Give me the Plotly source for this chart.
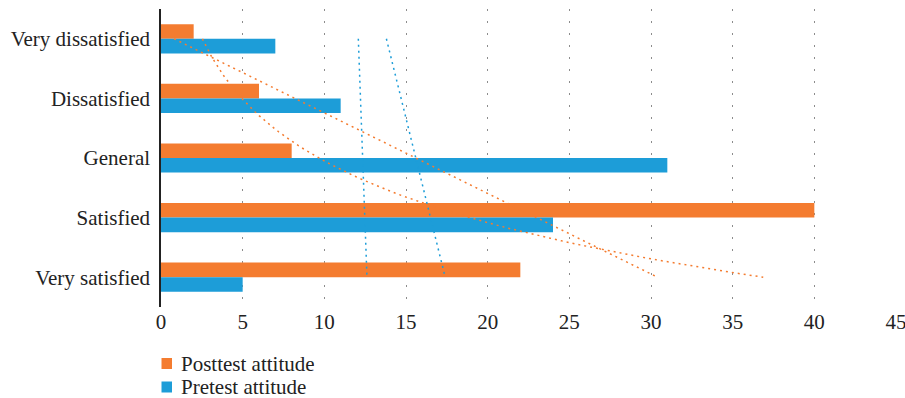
import numpy as np
import plotly.graph_objects as go

categories = ["Very dissatisfied", "Dissatisfied", "General", "Satisfied", "Very satisfied"]
series_names = ["Posttest attitude", "Pretest attitude"]
posttest = [2, 6, 8, 40, 22]
pretest = [7, 11, 31, 24, 5]
x_ticks = [0, 5, 10, 15, 20, 25, 30, 35, 40, 45]

ORANGE = "#F47C30"
BLUE = "#1D9DD8"
FONT = "Liberation Serif, serif"
FS = 21

W, H = 905, 398
L, R, T, B = 161, 9, 9, 91
PW, PH = W - L - R, H - T - B

idx = np.arange(1, len(categories) + 1, dtype=float)


def linear_trend(vals, k):
    b, a = np.polyfit(idx, np.asarray(vals, float), 1)
    return a + b * k


def exp_trend(vals, k):
    b, a = np.polyfit(idx, np.log(np.asarray(vals, float)), 1)
    return np.exp(a + b * k)


kk = np.linspace(1, len(categories), 60)

fig = go.Figure()
fig.add_trace(go.Bar(y=idx, x=posttest, orientation="h", name=series_names[0],
                     marker=dict(color=ORANGE, line=dict(width=0))))
fig.add_trace(go.Bar(y=idx, x=pretest, orientation="h", name=series_names[1],
                     marker=dict(color=BLUE, line=dict(width=0))))

for vals, col in [(posttest, ORANGE), (pretest, BLUE)]:
    for fn in (linear_trend, exp_trend):
        fig.add_trace(go.Scatter(x=fn(vals, kk), y=kk, mode="lines", showlegend=False,
                                 hoverinfo="skip",
                                 line=dict(color=col, width=1.5, dash="2px,4px")))


# manual legend (pixel positions converted to paper coordinates)
def px_x(p):
    return (p - L) / PW


def px_y(p):
    return (H - B - p) / PH


for i, (name, col) in enumerate(zip(series_names, [ORANGE, BLUE])):
    cy = 363.5 + 23.5 * i
    fig.add_shape(type="rect", xref="paper", yref="paper",
                  x0=px_x(161.5), x1=px_x(172), y0=px_y(cy - 5.5), y1=px_y(cy + 5.5),
                  fillcolor=col, line=dict(width=0))
    fig.add_annotation(xref="paper", yref="paper", x=px_x(180), y=px_y(cy),
                       xanchor="left", yanchor="middle", showarrow=False, text=name,
                       height=18, valign="middle", borderpad=0,
                       font=dict(family=FONT, size=FS, color="#222222"))

fig.update_layout(
    width=W, height=H,
    margin=dict(l=L, r=R, t=T, b=B, autoexpand=False),
    paper_bgcolor="white", plot_bgcolor="white",
    barmode="group", bargap=0.51, bargroupgap=0,
    font=dict(family=FONT, size=FS, color="#222222"),
    showlegend=False,
)
fig.update_xaxes(range=[0, 45], tickvals=x_ticks, ticktext=[str(v) for v in x_ticks],
                 showgrid=True, gridcolor="#8c8c8c", gridwidth=1, griddash="2px,10px",
                 zeroline=False, showline=False, ticks="", ticklabeloverflow="allow",
                 tickfont=dict(family=FONT, size=FS, color="#222222"))
fig.update_yaxes(range=[5.5, 0.5], tickvals=list(idx), ticktext=categories,
                 showgrid=False, zeroline=False, showline=True, linecolor="#222222",
                 linewidth=1.5, ticks="", ticklabelstandoff=5,
                 tickfont=dict(family=FONT, size=FS, color="#222222"))

fig.write_html("out.html")
